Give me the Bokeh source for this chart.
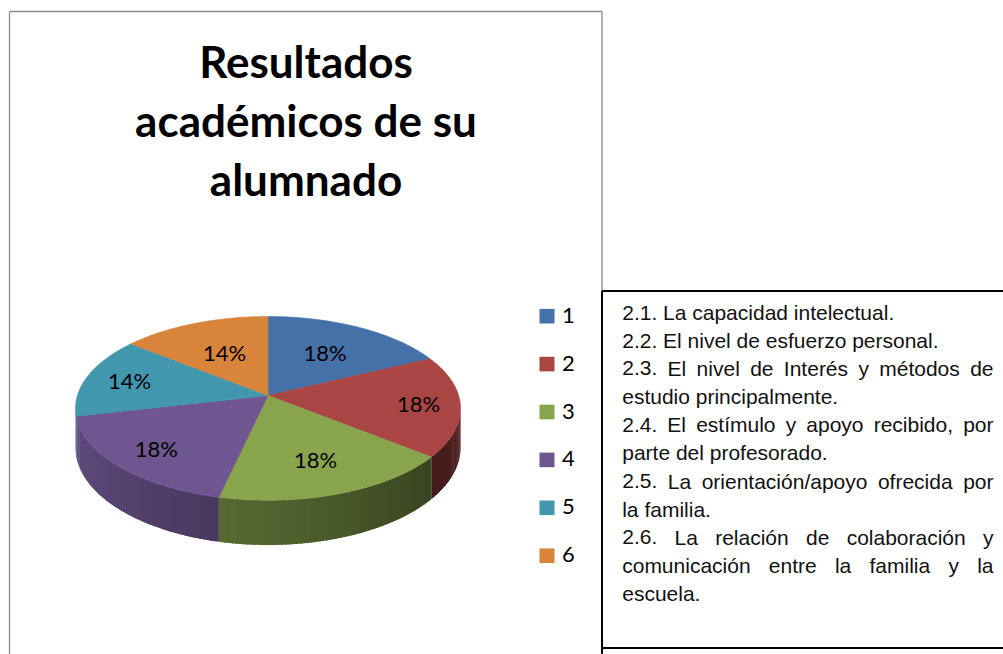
import math
from bokeh.plotting import figure
from bokeh.models import Range1d
from bokeh.core.properties import value
from bokeh.embed import file_html
from bokeh.resources import INLINE

# ---------------- data ----------------
title_lines = ["Resultados", "académicos de su", "alumnado"]
categories = ["1", "2", "3", "4", "5", "6"]
counts = [5, 5, 5, 5, 4, 4]
colors = ["#4571A9", "#A94543", "#88A44D", "#6F5690", "#4297AF", "#D8843B"]

# text box lines (as wrapped in the original); True = justified line
note_lines = [
    ("2.1. La capacidad intelectual.", False),
    ("2.2. El nivel de esfuerzo personal.", False),
    ("2.3. El nivel de Interés y métodos de", True),
    ("estudio principalmente.", False),
    ("2.4. El estímulo y apoyo recibido, por", True),
    ("parte del profesorado.", False),
    ("2.5. La orientación/apoyo ofrecida por", True),
    ("la familia.", False),
    ("2.6. La relación de colaboración y", True),
    ("comunicación entre la familia y la", True),
    ("escuela.", False),
]

# ---------------- geometry / style ----------------
CX, CY = 267.5, 395.0      # projected pie centre
A, B, S = 190.6, 90.06, 0.14
H = 38.5                   # side thickness factor

def rim(theta_deg, drop=False):
    t = math.radians(theta_deg)
    u, v = math.sin(t), -math.cos(t)
    w = 1 + S * math.cos(t)
    x = CX + A * u / w
    y = CY + B * v / w
    if drop:
        y += H / w
    return x, y

def shade(hexcol, f):
    h = hexcol.lstrip("#")
    r, g, b = (int(h[i:i + 2], 16) for i in (0, 2, 4))
    return "#%02x%02x%02x" % tuple(max(0, min(255, int(round(c * f)))) for c in (r, g, b))

W, HGT = 1003, 654
p = figure(width=W, height=HGT, x_range=Range1d(0, W), y_range=Range1d(HGT, 0),
           output_backend="svg", toolbar_location=None,
           x_axis_location=None, y_axis_location=None,
           min_border=0, outline_line_color=None)
p.grid.visible = False
p.background_fill_color = "white"
p.border_fill_color = "white"

# chart frame (grey)
p.line([9, 9], [11, 700], line_color="#8a8a8a", line_width=1.3)
p.line([9, 601.5], [11, 11], line_color="#8a8a8a", line_width=1.3)
p.line([601.5, 601.5], [11, 291], line_color="#8a8a8a", line_width=1.3)

# ---------------- pie ----------------
total = float(sum(counts))
bounds = []
acc = 0.0
for c in counts:
    a0 = acc / total * 360.0
    acc += c
    a1 = acc / total * 360.0
    bounds.append((a0, a1))

vis_lo = math.degrees(math.acos(-S))          # ~98 deg
vis_hi = 360.0 - vis_lo                        # ~262 deg

side_xs, side_ys, side_cols = [], [], []
for (a0, a1), col in zip(bounds, colors):
    lo, hi = max(a0, vis_lo - 1.0), min(a1, vis_hi + 1.0)
    if hi <= lo:
        continue
    n = max(1, int(math.ceil((hi - lo) / 1.0)))
    for k in range(n):
        t0 = lo + (hi - lo) * k / n
        t1 = min(hi, lo + (hi - lo) * (k + 1) / n + 0.6)
        pts = [rim(t0 + (t1 - t0) * j / 3) for j in range(4)]
        bots = [rim(t0 + (t1 - t0) * j / 3, True) for j in range(4)][::-1]
        side_xs.append([q[0] for q in pts + bots])
        side_ys.append([q[1] for q in pts + bots])
        tm = 0.5 * (t0 + t1)
        f = 0.40 + 0.0037 * abs(tm - 125.0)
        side_cols.append(shade(col, f))
p.patches(side_xs, side_ys, fill_color=side_cols, line_color=None)

top_xs, top_ys = [], []
for (a0, a1) in bounds:
    n = max(2, int(math.ceil(a1 - a0)))
    xs, ys = [CX], [CY]
    for k in range(n + 1):
        x, y = rim(a0 + (a1 - a0) * k / n)
        xs.append(x)
        ys.append(y)
    top_xs.append(xs)
    top_ys.append(ys)
p.patches(top_xs, top_ys, fill_color=colors, line_color=colors, line_width=0.6)

# percentage labels
lab_x, lab_y, lab_t = [], [], []
for (a0, a1), c in zip(bounds, counts):
    m = 0.5 * (a0 + a1)
    rx, ry = rim(m)
    dx, dy = CX - rx, CY - ry
    d = math.hypot(dx, dy)
    lab_x.append(rx + 42 * dx / d)
    lab_y.append(ry + 42 * dy / d)
    lab_t.append("%d%%" % round(100.0 * c / total))
p.text(lab_x, lab_y, text=lab_t, text_font=value("Lato"), text_font_size="22px",
       text_align="center", text_baseline="middle", text_color="black")

# ---------------- title ----------------
p.text([305.5] * 3, [60.5 + 59.0 * i for i in range(3)], text=title_lines,
       text_font=value("Lato"), text_font_size="44px", text_font_style="bold",
       text_align="center", text_baseline="middle", text_color="black")

# ---------------- legend ----------------
leg_y = [315.7 + 47.9 * i for i in range(len(categories))]
p.quad(left=[539] * 6, right=[554] * 6, top=[y - 7.3 for y in leg_y],
       bottom=[y + 7.3 for y in leg_y], fill_color=colors, line_color=None)
p.text([561.5] * 6, [y - 1.0 for y in leg_y], text=categories, text_font=value("Lato"),
       text_font_size="22px", text_align="left", text_baseline="middle", text_color="black")

# ---------------- text box ----------------
p.line([601.5, 601.5], [290.5, 700], line_color="black", line_width=2)
p.line([601.5, 1010], [290.5, 290.5], line_color="black", line_width=2)
p.line([601.5, 1010], [647.5, 647.5], line_color="black", line_width=2)

ARIAL = {" ": 278, ".": 278, ",": 278, "/": 278, "%": 889,
         "E": 667, "I": 278, "L": 556,
         "a": 556, "b": 556, "c": 500, "d": 556, "e": 556, "f": 278, "g": 556,
         "h": 556, "i": 222, "j": 222, "k": 500, "l": 222, "m": 833, "n": 556,
         "o": 556, "p": 556, "q": 556, "r": 333, "s": 500, "t": 278, "u": 556,
         "v": 500, "w": 722, "x": 500, "y": 500, "z": 500,
         "á": 556, "é": 556, "í": 278, "ó": 556, "ú": 556}
FS = 21.0
def tw(s):
    return sum(ARIAL.get(ch, 556) for ch in s) * FS / 1000.0

LEFT, RIGHT = 621.7, 993.0
MID0, STEP = 311.5, 28.17
lx, ly, lt = [], [], []
rx_, ry_, rt = [], [], []
for i, (line, just) in enumerate(note_lines):
    yb = MID0 + STEP * i
    if not just:
        lx.append(LEFT); ly.append(yb); lt.append(line)
        continue
    words = line.split(" ")
    widths = [tw(w) for w in words]
    gap = (RIGHT - LEFT - sum(widths)) / (len(words) - 1)
    x = LEFT
    for j, (w, wd) in enumerate(zip(words, widths)):
        if j == len(words) - 1:
            rx_.append(RIGHT); ry_.append(yb); rt.append(w)
        else:
            lx.append(x); ly.append(yb); lt.append(w)
        x += wd + gap
p.text(lx, ly, text=lt, text_font=value("Liberation Sans"), text_font_size="21px",
       text_align="left", text_baseline="middle", text_color="#111111")
p.text(rx_, ry_, text=rt, text_font=value("Liberation Sans"), text_font_size="21px",
       text_align="right", text_baseline="middle", text_color="#111111")

open("out.html", "w").write(file_html(p, INLINE))
